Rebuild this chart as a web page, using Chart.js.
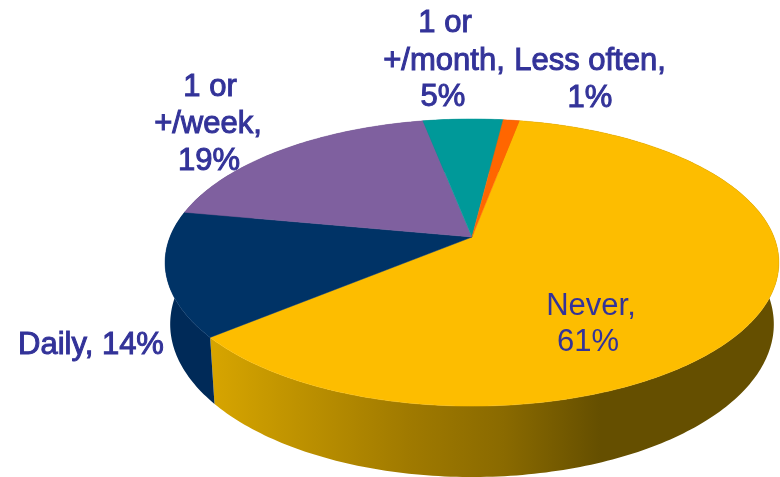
<!DOCTYPE html>
<html>
<head>
<meta charset="utf-8">
<title>Frequency</title>
<script src="https://cdn.jsdelivr.net/npm/chart.js@4"></script>
<style>
  html, body { margin: 0; padding: 0; background: #fff; }
  canvas { display: block; }
</style>
</head>
<body>
<canvas id="pieChart" width="780" height="477"></canvas>
<script>
const categories = ['Never', 'Daily', '1 or +/week', '1 or +/month', 'Less often'];
const shares     = [61, 14, 19, 5, 1];
const sliceColors = ['#fdbd00', '#003366', '#7f609f', '#009999', '#ff6600'];
const wallColors  = ['#8a6a00', '#002a58', '#5f4778', '#007070', '#b84a00'];

// where each label line sits: [centre x, baseline y], and how the text wraps
const labelLines = [
  [['Never,', 591, 315], ['61%', 588, 351]],
  [['Daily, 14%', 91, 354]],
  [['1 or', 210, 96], ['+/week,', 208, 133], ['19%', 209, 170]],
  [['1 or', 445, 32], ['+/month,', 444, 70], ['5%', 443, 106]],
  [['Less often,', 590, 70], ['1%', 590, 107]]
];

// tilted disc: perspective factor and the two rims
const tilt = 0.178;
const topRim    = { cx: 472, cy: 237, rx: 302, ry: 139 };
const bottomRim = { cx: 472, cy: 297, rx: 297, ry: 148 };

function project(rim, angle) {
  const u = Math.cos(angle), v = Math.sin(angle);
  const w = 1 - tilt * v;
  return [rim.cx + rim.rx * u / w, rim.cy + rim.ry * v / w];
}

function traceRim(ctx, rim, from, to) {
  const steps = Math.max(2, Math.ceil(Math.abs(to - from) * 60));
  for (let i = 0; i <= steps; i++) {
    const p = project(rim, from + (to - from) * i / steps);
    ctx.lineTo(p[0], p[1]);
  }
}

const pie3d = {
  id: 'pie3d',
  // the library works out the slice angles, only the painting is replaced
  beforeDatasetDraw(chart, args) {
    const ctx = chart.ctx;
    const arcs = chart.getDatasetMeta(args.index).data;

    const sideFade = ctx.createLinearGradient(215, 0, 600, 0);
    sideFade.addColorStop(0, '#d6a400');
    sideFade.addColorStop(0.12, '#c89a00');
    sideFade.addColorStop(0.5, '#a07a00');
    sideFade.addColorStop(0.75, '#8a6a00');
    sideFade.addColorStop(1, '#654f00');

    arcs.forEach((arc, i) => {
      ctx.beginPath();
      traceRim(ctx, topRim, arc.startAngle, arc.endAngle);
      traceRim(ctx, bottomRim, arc.endAngle, arc.startAngle);
      ctx.closePath();
      ctx.fillStyle = i === 0 ? sideFade : wallColors[i];
      ctx.fill();
    });

    arcs.forEach((arc, i) => {
      ctx.beginPath();
      ctx.moveTo(topRim.cx, topRim.cy);
      traceRim(ctx, topRim, arc.startAngle, arc.endAngle);
      ctx.closePath();
      ctx.fillStyle = sliceColors[i];
      ctx.strokeStyle = sliceColors[i];
      ctx.lineWidth = 0.5;
      ctx.fill();
      ctx.stroke();
    });
    return false;
  },
  afterDraw(chart) {
    const ctx = chart.ctx;
    ctx.save();
    ctx.font = '31px "Liberation Sans", Arial, sans-serif';
    ctx.textAlign = 'center';
    ctx.textBaseline = 'alphabetic';
    ctx.fillStyle = '#333399';
    ctx.strokeStyle = '#333399';
    labelLines.forEach((lines, i) => {
      lines.forEach(([text, x, y]) => {
        ctx.fillText(text, x, y);
        // outer labels look heavier than the one inside the pie
        if (i > 0) {
          ctx.lineWidth = 1;
          ctx.strokeText(text, x, y);
        }
      });
    });
    ctx.restore();
  }
};

new Chart(document.getElementById('pieChart'), {
  type: 'pie',
  data: {
    labels: categories,
    datasets: [{ data: shares, backgroundColor: sliceColors, borderWidth: 0 }]
  },
  options: {
    responsive: false,
    animation: false,
    rotation: 10.6,
    plugins: { legend: { display: false }, tooltip: { enabled: false } }
  },
  plugins: [pie3d]
});
</script>
</body>
</html>
